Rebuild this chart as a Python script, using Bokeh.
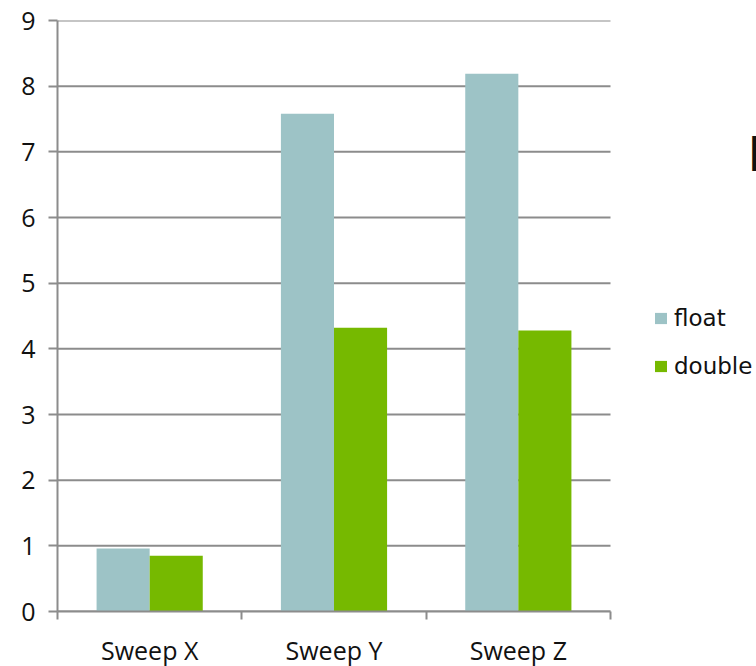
from bokeh.plotting import figure
from bokeh.models import (ColumnDataSource, Range1d, FixedTicker, Legend, LegendItem, Label)
from bokeh.transform import dodge
from bokeh.embed import file_html
from bokeh.resources import INLINE

# Throughput per sweep direction, single vs double precision
categories = ["Sweep X", "Sweep Y", "Sweep Z"]
float_vals = [0.96, 7.58, 8.19]
double_vals = [0.85, 4.32, 4.28]
y_ticks = [0, 1, 2, 3, 4, 5, 6, 7, 8, 9]

FLOAT_COLOR = "#9DC3C6"
DOUBLE_COLOR = "#76B900"
GRID_COLOR = "#8c8c8c"
AXIS_FONT = "Open Sans"

n = len(categories)
centers = [i + 0.5 for i in range(n)]
source = ColumnDataSource(dict(x=centers, cat=categories,
                               float_v=float_vals, double_v=double_vals))

# the chart area spans 553 px for the three groups; the frame continues to the
# right edge of the canvas so the legend and title can sit beside the bars
PLOT_W, FRAME_W = 553, 699
x_end = n * FRAME_W / PLOT_W

p = figure(frame_width=FRAME_W, frame_height=591,
           min_border_left=57, min_border_right=0,
           min_border_top=20, min_border_bottom=55,
           x_range=Range1d(0, x_end), y_range=Range1d(0, 9),
           output_backend="svg", toolbar_location=None, tools="")
p.outline_line_color = None
p.background_fill_color = "white"
p.xgrid.grid_line_color = None
p.ygrid.grid_line_color = None

# horizontal gridlines across the category area only
grid_src = ColumnDataSource(dict(y=y_ticks, x0=[0] * len(y_ticks), x1=[n] * len(y_ticks)))
p.segment(x0="x0", x1="x1", y0="y", y1="y", source=grid_src,
          line_color=GRID_COLOR, line_width=2)

bar_w = 0.288
r_float = p.vbar(x=dodge("x", -bar_w / 2, range=p.x_range), top="float_v", width=bar_w,
                 source=source, fill_color=FLOAT_COLOR, line_color=None)
r_double = p.vbar(x=dodge("x", bar_w / 2, range=p.x_range), top="double_v", width=bar_w,
                  source=source, fill_color=DOUBLE_COLOR, line_color=None)

# value axis
p.yaxis.ticker = FixedTicker(ticks=y_ticks)
p.yaxis.axis_line_color = GRID_COLOR
p.yaxis.axis_line_width = 2
p.yaxis.major_tick_line_color = GRID_COLOR
p.yaxis.major_tick_line_width = 2
p.yaxis.major_tick_out = 9
p.yaxis.major_tick_in = 0
p.yaxis.minor_tick_line_color = None
p.yaxis.major_label_standoff = 13
p.yaxis.major_label_text_font = AXIS_FONT
p.yaxis.major_label_text_font_size = "25px"
p.yaxis.major_label_text_color = "#111111"

# category axis: labels centred, ticks on the group boundaries
p.xaxis.bounds = (0, n)
p.xaxis.ticker = FixedTicker(ticks=centers, minor_ticks=list(range(n + 1)))
p.xaxis.major_label_overrides = {c: name for c, name in zip(centers, categories)}
p.xaxis.axis_line_color = GRID_COLOR
p.xaxis.axis_line_width = 2
p.xaxis.major_tick_line_color = None
p.xaxis.major_tick_out = 0
p.xaxis.major_tick_in = 0
p.xaxis.minor_tick_line_color = GRID_COLOR
p.xaxis.minor_tick_line_width = 2
p.xaxis.minor_tick_out = 8
p.xaxis.minor_tick_in = 0
p.xaxis.major_label_standoff = 13
p.xaxis.major_label_text_font = AXIS_FONT
p.xaxis.major_label_text_font_size = "25px"
p.xaxis.major_label_text_color = "#111111"

legend = Legend(items=[LegendItem(label="float", renderers=[r_float]),
                       LegendItem(label="double", renderers=[r_double])],
                location=(596, 232), orientation="vertical")
legend.border_line_color = None
legend.background_fill_alpha = 0
legend.padding = 0
legend.margin = 0
legend.spacing = 22
legend.glyph_width = 15
legend.glyph_height = 14
legend.label_height = 24
legend.label_standoff = 6
legend.label_text_font = "DejaVu Sans"
legend.label_text_font_size = "23px"
legend.label_text_color = "#111111"
p.add_layout(legend)

title = Label(x=690, y=458, x_units="screen", y_units="screen", text="N",
              text_font="DejaVu Sans", text_font_size="48px", text_color="#111111",
              text_baseline="alphabetic")
p.add_layout(title)

open("out.html", "w").write(file_html(p, INLINE))
